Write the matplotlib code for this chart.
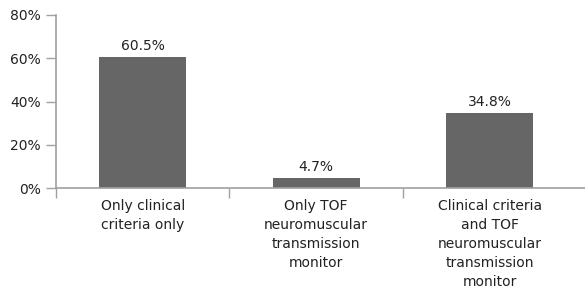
import matplotlib
matplotlib.use("Agg")
import matplotlib.pyplot as plt
from matplotlib.transforms import offset_copy, ScaledTranslation

categories = ["Only clinical\ncriteria only",
              "Only TOF\nneuromuscular\ntransmission\nmonitor",
              "Clinical criteria\nand TOF\nneuromuscular\ntransmission\nmonitor"]
values = [60.5, 4.7, 34.8]
value_labels = ["60.5%", "4.7%", "34.8%"]
yticks = [0, 20, 40, 60, 80]
ytick_labels = ["0%", "20%", "40%", "60%", "80%"]

plt.rcParams['font.family'] = ['DejaVu Sans']
fig = plt.figure(figsize=(5.85, 2.86), dpi=100)
ax = fig.add_axes([56/585, 1-188/286, 1-56/585, (188-15)/286])

bar_color = "#666666"
axis_color = "#a0a0a0"
text_color = "#222222"
fs = 10

x = list(range(len(categories)))
ax.bar(x, values, width=0.5, color=bar_color, zorder=2)
tr = offset_copy(ax.transData, fig=fig, x=0, y=7, units='dots')
for xi, v, lab in zip(x, values, value_labels):
    ax.text(xi, v, lab, ha='center', va='baseline', fontsize=fs, color=text_color, transform=tr)

ax.set_ylim(0, 80)
ax.set_xlim(-0.5, 2.55)
ax.set_yticks(yticks)
ax.set_yticklabels(ytick_labels, fontsize=fs, color=text_color)
shift = ScaledTranslation(0, -3/100, fig.dpi_scale_trans)
for lbl in ax.get_yticklabels():
    lbl.set_transform(lbl.get_transform() + shift)

ax.set_xticks([-0.5, 0.5, 1.5])
ax.set_xticklabels([])
ax.set_xticks(x, minor=True)
ax.set_xticklabels(categories, minor=True, fontsize=fs, color=text_color, linespacing=1.45)
ax.tick_params(axis='x', which='minor', length=0, pad=8)
ax.tick_params(axis='x', which='major', length=7, color=axis_color, width=1)
ax.tick_params(axis='y', length=7, color=axis_color, width=1, pad=4)

for s in ['top', 'right']:
    ax.spines[s].set_visible(False)
for s in ['left', 'bottom']:
    ax.spines[s].set_color(axis_color)
    ax.spines[s].set_linewidth(1.2)

fig.savefig("out.png", dpi=100)
